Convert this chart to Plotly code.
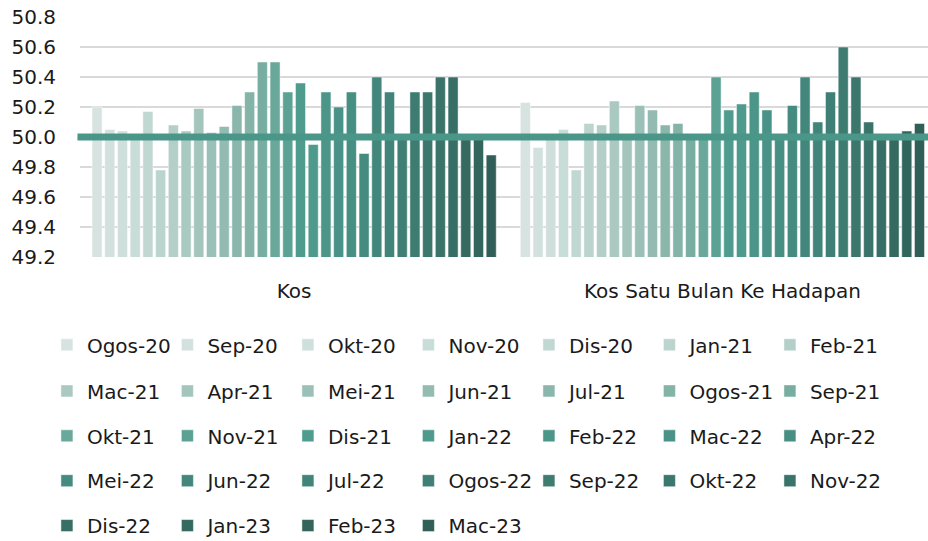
import plotly.graph_objects as go

categories = ["Kos", "Kos Satu Bulan Ke Hadapan"]

months = ["Ogos-20", "Sep-20", "Okt-20", "Nov-20", "Dis-20", "Jan-21", "Feb-21",
          "Mac-21", "Apr-21", "Mei-21", "Jun-21", "Jul-21", "Ogos-21", "Sep-21",
          "Okt-21", "Nov-21", "Dis-21", "Jan-22", "Feb-22", "Mac-22", "Apr-22",
          "Mei-22", "Jun-22", "Jul-22", "Ogos-22", "Sep-22", "Okt-22", "Nov-22",
          "Dis-22", "Jan-23", "Feb-23", "Mac-23"]

kos = [50.2, 50.05, 50.04, 50.0, 50.17, 49.78, 50.08, 50.04, 50.19, 50.03, 50.07,
       50.21, 50.3, 50.5, 50.5, 50.3, 50.36, 49.95, 50.3, 50.2, 50.3, 49.89, 50.4,
       50.3, 50.0, 50.3, 50.3, 50.4, 50.4, 50.0, 50.0, 49.88]

kos_depan = [50.23, 49.93, 50.0, 50.05, 49.78, 50.09, 50.08, 50.24, 50.0, 50.21,
             50.18, 50.08, 50.09, 50.0, 50.0, 50.4, 50.18, 50.22, 50.3, 50.18,
             50.0, 50.21, 50.4, 50.1, 50.3, 50.6, 50.4, 50.1, 50.0, 50.0, 50.04,
             50.09]

y_ticks = [49.2, 49.4, 49.6, 49.8, 50.0, 50.2, 50.4, 50.6, 50.8]
threshold = 50.0

colors = ["#d6e3e0", "#d3e1de", "#cfdfdb", "#c8dcd8", "#c1d7d2", "#bbd4ce", "#b3cfc8",
          "#aac9c1", "#a3c5bc", "#9bc0b7", "#93bbb1", "#8bb6ac", "#84b3a8", "#78ada1",
          "#6aa89b", "#5ba294", "#4f9c8e", "#4e9a8c", "#4b9589", "#499287", "#478e83",
          "#458b80", "#43877c", "#418479", "#407f75", "#3e7b71", "#3c776d", "#3a7369",
          "#376e65", "#356a61", "#32655c", "#2f5f57"]

FONT = "DejaVu Sans"
legend_names = ["legend", "legend2", "legend3", "legend4", "legend5"]

fig = go.Figure()
for i, m in enumerate(months):
    fig.add_trace(go.Bar(
        x=categories, y=[kos[i], kos_depan[i]], name=m,
        marker=dict(color=colors[i], line=dict(width=0.8, color="rgba(255,255,255,0.6)")),
        legend=legend_names[i // 7],
    ))

fig.add_shape(type="line", xref="paper", yref="y", x0=-0.003, x1=1, y0=threshold, y1=threshold,
              line=dict(color="#4a978a", width=7), layer="above")

row_y = [-0.366, -0.558, -0.745, -0.932, -1.119]
legend_common = dict(orientation="h", x=-0.039, xanchor="left", yanchor="middle",
                     font=dict(family=FONT, size=20, color="#1a1a1a"),
                     entrywidth=75.5, entrywidthmode="pixels",
                     bgcolor="rgba(0,0,0,0)", borderwidth=0, traceorder="normal")

layout_legends = {}
for k, name in enumerate(legend_names):
    layout_legends[name] = dict(legend_common, y=row_y[k])

fig.update_layout(
    width=928, height=541,
    margin=dict(l=80, r=0, t=17, b=284, autoexpand=False),
    paper_bgcolor="white", plot_bgcolor="white",
    barmode="group", bargap=0.05, bargroupgap=0.21,
    showlegend=True,
    font=dict(family=FONT, size=20, color="#1a1a1a"),
    xaxis=dict(range=[-0.5, 1.48], showgrid=False, showline=False, ticks="",
               tickfont=dict(family=FONT, size=20, color="#1a1a1a"), ticklabelstandoff=20),
    yaxis=dict(range=[49.2, 50.8], tickvals=y_ticks, ticktext=[f"{v:.1f}" for v in y_ticks],
               showgrid=True, gridcolor="#d9d9d9", gridwidth=2, zeroline=False,
               showline=False, ticks="", ticklabelstandoff=23,
               tickfont=dict(family=FONT, size=20, color="#1a1a1a")),
    **layout_legends,
)

fig.write_html("out.html", config={"displayModeBar": False},
               post_script="document.body.style.margin='0';document.body.style.overflow='hidden';")
